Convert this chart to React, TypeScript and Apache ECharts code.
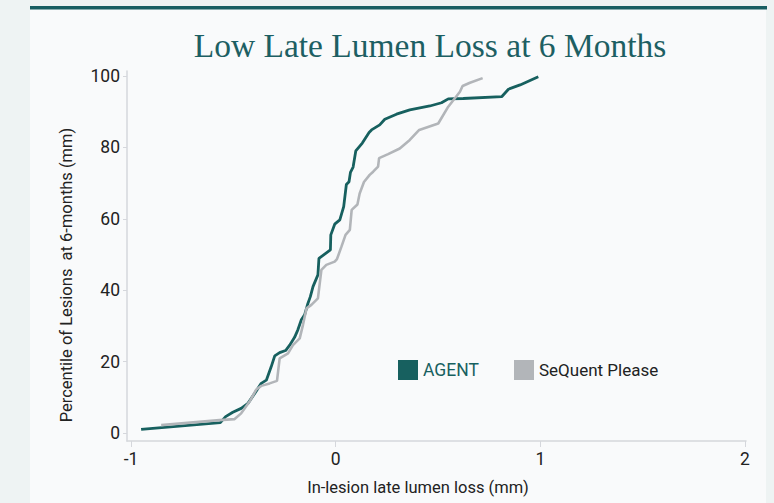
import React, { useEffect, useRef } from "react";
import * as echarts from "echarts";

const seriesNames = ["AGENT", "SeQuent Please"];
const agentX = [-0.951, -0.564, -0.538, -0.503, -0.462, -0.429, -0.396, -0.364, -0.339, -0.315, -0.298, -0.274, -0.245, -0.225, -0.201, -0.185, -0.168, -0.152, -0.136, -0.124, -0.111, -0.087, -0.082, -0.026, -0.024, -0.005, 0.02, 0.039, 0.052, 0.065, 0.072, 0.085, 0.098, 0.13, 0.163, 0.175, 0.215, 0.24, 0.297, 0.362, 0.46, 0.517, 0.55, 0.623, 0.811, 0.844, 0.901, 0.99];
const agentY = [1.0, 2.9, 4.6, 5.8, 6.9, 8.3, 11.1, 13.9, 14.8, 18.6, 21.6, 22.5, 23.1, 24.6, 26.8, 28.9, 31.7, 33.1, 36.3, 38.2, 41.0, 44.3, 48.9, 51.3, 55.5, 58.5, 59.7, 63.4, 69.6, 70.4, 73.0, 74.5, 79.0, 81.2, 84.2, 84.9, 86.3, 87.9, 89.3, 90.5, 91.6, 92.5, 93.6, 93.7, 94.2, 96.3, 97.5, 99.8];
const sequentX = [-0.853, -0.568, -0.494, -0.462, -0.421, -0.388, -0.364, -0.323, -0.287, -0.274, -0.233, -0.209, -0.176, -0.16, -0.143, -0.119, -0.087, -0.07, -0.046, -0.005, 0.006, 0.028, 0.048, 0.069, 0.078, 0.106, 0.117, 0.138, 0.166, 0.183, 0.207, 0.212, 0.256, 0.313, 0.362, 0.408, 0.501, 0.55, 0.607, 0.62, 0.656, 0.718];
const sequentY = [2.2, 3.6, 3.9, 5.5, 8.8, 12.2, 13.2, 13.9, 14.6, 20.9, 22.3, 24.6, 26.5, 30.3, 34.9, 35.9, 37.7, 45.7, 47.1, 48.0, 48.7, 52.2, 55.5, 56.9, 62.5, 64.0, 67.1, 70.3, 72.3, 73.2, 74.6, 77.0, 78.1, 79.7, 82.1, 84.9, 86.7, 91.4, 95.6, 97.2, 98.1, 99.4];
const xTicks = [-1, 0, 1, 2];
const yTicks = [0, 20, 40, 60, 80, 100];

const TEAL = "#17605f";
const GRAY = "#b2b5b9";
const LABEL_FONT = "Roboto, 'Liberation Sans', sans-serif";

export default function App() {
  const ref = useRef<HTMLDivElement>(null);
  useEffect(() => {
    document.body.style.margin = "0";
    const chart = echarts.init(ref.current!, null, { renderer: "svg" });
    const toPairs = (xs: number[], ys: number[]) => xs.map((x, i) => [x, ys[i]]);
    chart.setOption({
      animation: false,
      backgroundColor: "#eef3f3",
      graphic: [
        { type: "rect", z: -10, shape: { x: 30, y: 8, width: 736, height: 495 }, style: { fill: "#f9fafb" } },
        { type: "rect", z: -9, shape: { x: 30, y: 6, width: 737, height: 3.5 }, style: { fill: "#175e62" } },
        {
          type: "text",
          x: 66,
          y: 275,
          rotation: Math.PI / 2,
          style: {
            text: "Percentile of Lesions  at 6-months (mm)",
            fontFamily: LABEL_FONT,
            fontSize: 16.5,
            fill: "#222",
            align: "center",
            verticalAlign: "middle",
          },
        },
        {
          type: "text",
          x: 418,
          y: 487,
          style: {
            text: "In-lesion late lumen loss (mm)",
            fontFamily: LABEL_FONT,
            fontSize: 16.5,
            fill: "#222",
            align: "center",
            verticalAlign: "middle",
          },
        },
      ],
      title: {
        text: "Low Late Lumen Loss at 6 Months",
        left: 425,
        top: 23,
        textAlign: "center",
        textStyle: {
          fontFamily: "'Liberation Serif', 'DejaVu Serif', serif",
          fontWeight: "normal",
          fontSize: 33.5,
          color: "#1d5f63",
        },
      },
      legend: [
        {
          data: [seriesNames[0]],
          left: 398,
          top: 360,
          icon: "rect",
          itemWidth: 20,
          itemHeight: 20,
          itemGap: 5,
          padding: 0,
          textStyle: { fontFamily: LABEL_FONT, fontSize: 17.5, color: TEAL },
        },
        {
          data: [seriesNames[1]],
          left: 514,
          top: 360,
          icon: "rect",
          itemWidth: 20,
          itemHeight: 20,
          padding: 0,
          textStyle: { fontFamily: LABEL_FONT, fontSize: 17, color: "#222" },
        },
      ],
      grid: { left: 127, top: 71, right: 774 - 746, bottom: 503 - 441, containLabel: false },
      xAxis: {
        type: "value",
        min: -1.02,
        max: 2.005,
        splitLine: { show: false },
        axisLine: { onZero: false, lineStyle: { color: "#d5d7dc", width: 1.5 } },
        axisTick: { customValues: xTicks, length: 6, lineStyle: { color: "#d5d7dc" } },
        axisLabel: { customValues: xTicks, margin: 9, fontFamily: LABEL_FONT, fontSize: 17.5, color: "#222" },
      },
      yAxis: {
        type: "value",
        min: -2.24,
        max: 101.4,
        splitLine: { show: false },
        axisLine: { show: true, onZero: false, lineStyle: { color: "#d5d7dc", width: 1.5 } },
        axisTick: { show: true, customValues: yTicks, length: 4, lineStyle: { color: "#d5d7dc" } },
        axisLabel: { customValues: yTicks, margin: 7, fontFamily: LABEL_FONT, fontSize: 17.5, color: "#222" },
      },
      series: [
        {
          name: seriesNames[0],
          type: "line",
          data: toPairs(agentX, agentY),
          showSymbol: false,
          symbol: "none",
          smooth: false,
          lineStyle: { color: TEAL, width: 2.8 },
          itemStyle: { color: TEAL },
          z: 2,
        },
        {
          name: seriesNames[1],
          type: "line",
          data: toPairs(sequentX, sequentY),
          showSymbol: false,
          symbol: "none",
          smooth: false,
          lineStyle: { color: GRAY, width: 2.6 },
          itemStyle: { color: GRAY },
          z: 3,
        },
      ],
    });
    return () => chart.dispose();
  }, []);
  return <div ref={ref} style={{ position: "fixed", left: 0, top: 0, width: 774, height: 503 }} />;
}
